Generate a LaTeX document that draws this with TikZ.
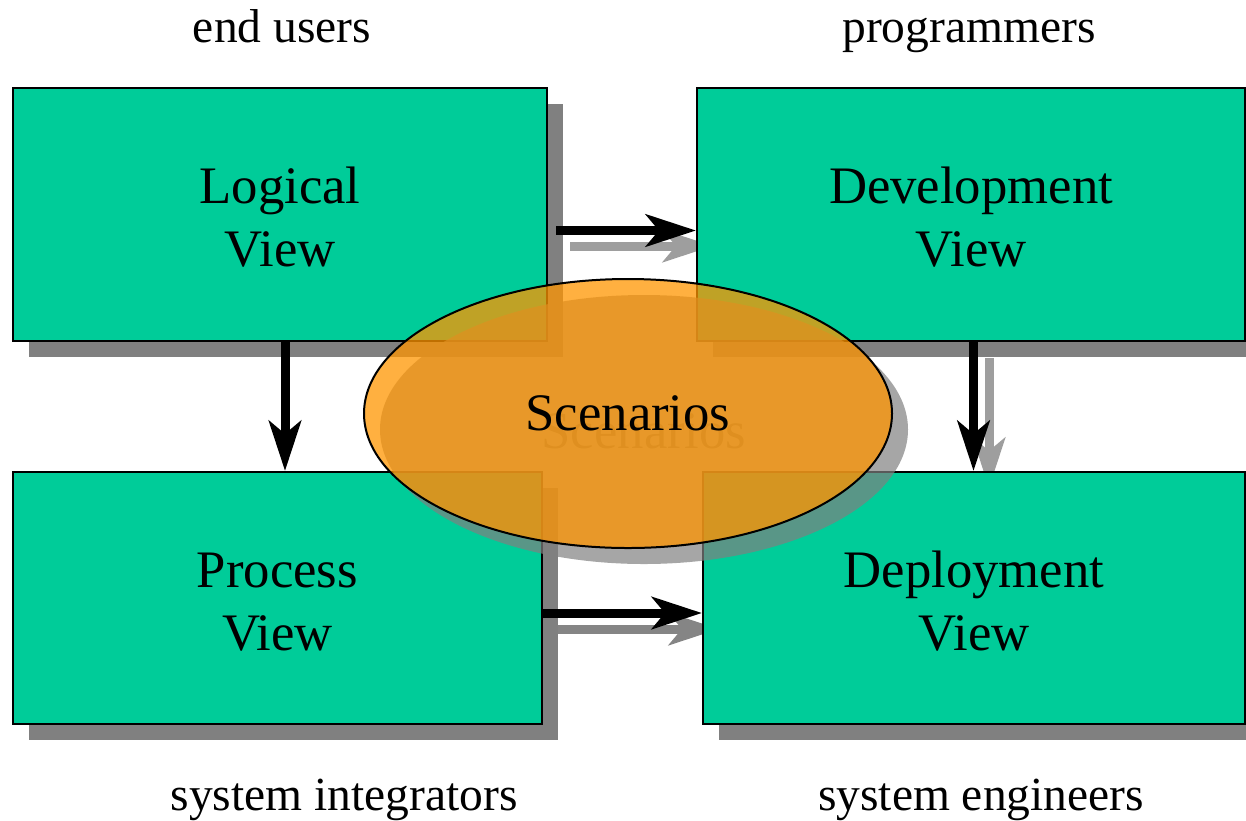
\documentclass[tikz,border=0pt]{standalone}
\usepackage{fontspec}
\setmainfont{Liberation Serif}
\usetikzlibrary{arrows.meta,shapes.geometric}
\definecolor{boxgreen}{RGB}{0,204,153}
\definecolor{boxshadow}{RGB}{128,128,128}
\definecolor{arrowshadowA}{RGB}{158,158,158}
\definecolor{arrowshadowB}{RGB}{133,133,133}
\definecolor{scorange}{RGB}{255,149,0}
\newcommand{\upstrut}{\rule{0pt}{42pt}}
\tikzset{
  x=1pt, y=-1pt,
  viewbox/.style={draw=black, line width=2pt, fill=boxgreen, inner sep=0pt,
    align=center, font=\fontsize{52.7}{63}\selectfont},
  boxshade/.style={fill=boxshadow},
  flow/.style={line width=9pt, -{Stealth[length=50pt,width=32pt,inset=13pt]}},
  labeltext/.style={font=\fontsize{47.5}{57}\selectfont, anchor=base},
}
\begin{document}
\begin{tikzpicture}
\useasboundingbox (0,0) rectangle (1246,820);
% box shadows
\fill[boxshade] (29,104) rectangle (563,357);
\fill[boxshade] (713,104) rectangle (1261,357);
\fill[boxshade] (29,488) rectangle (558,740);
\fill[boxshade] (719,488) rectangle (1261,740);
% shadow arrows
\coordinate (s1a) at (570,246);
\coordinate (s1b) at (713,246);
\coordinate (s2a) at (989,358);
\coordinate (s2b) at (989,488);
\coordinate (s3a) at (558,629);
\coordinate (s3b) at (719,629);
\draw[flow, arrowshadowA] (s1a) -- (s1b);
\draw[flow, arrowshadowA] (s2a) -- (s2b);
\draw[flow, arrowshadowB] (s3a) -- (s3b);
% boxes
\node[viewbox, minimum width=534pt, minimum height=253pt] (logical) at (280,214.5) {\upstrut Logical\\View};
\node[viewbox, minimum width=548pt, minimum height=253pt] (devel) at (971,214.5) {\upstrut Development\\View};
\node[viewbox, minimum width=529pt, minimum height=252pt] (process) at (277.5,598) {\upstrut Process\\View};
\node[viewbox, minimum width=542pt, minimum height=252pt] (deploy) at (974,598) {\upstrut Deployment\\View};
% arrows
\draw[flow] ([xshift=8pt]logical.east |- 0,230.5) -- (devel.west |- 0,230.5);
\draw[flow] (logical.south -| 285,0) -- (process.north -| 285,0);
\draw[flow] (devel.south -| 973.5,0) -- (deploy.north -| 973.5,0);
\draw[flow] (process.east |- 0,613) -- (deploy.west |- 0,613);
% scenarios ellipse with shadow
\fill[boxshadow, opacity=0.7] (644,429.5) ellipse [x radius=264pt, y radius=134.5pt];
\node[font=\fontsize{52.7}{63}\selectfont, text=boxshadow] (scshadow) at (644,431.5) {Scenarios};
\node[ellipse, draw=black, line width=2pt, fill=scorange, fill opacity=0.75, text opacity=1,
  minimum width=528pt, minimum height=269pt, inner sep=0pt,
  font=\fontsize{52.7}{63}\selectfont] (scen) at (628,413.5) {\raisebox{-2pt}{Scenarios}};
% labels
\node[labeltext] (lu) at (282,42) {end users};
\node[labeltext] (lp) at (969,42) {programmers};
\node[labeltext] (li) at (344,810) {system integrators};
\node[labeltext] (le) at (981,810) {system engineers};
\end{tikzpicture}
\end{document}
